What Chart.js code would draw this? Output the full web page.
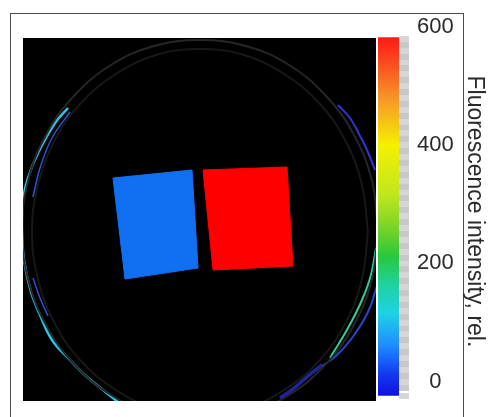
<!DOCTYPE html>
<html>
<head>
<meta charset="utf-8">
<script src="https://cdn.jsdelivr.net/npm/chart.js@4/dist/chart.umd.min.js"></script>
<style>
  body { margin: 0; background: #fff; width: 488px; height: 417px; overflow: hidden; position: relative; }
  #frame { position: absolute; left: 10px; top: 13px; width: 452px; height: 500px; border: 1px solid #4a4a4a; }
  #imgBox { position: absolute; left: 23px; top: 38px; width: 353px; height: 363px; background: #000; }
  #barBox { position: absolute; left: 378px; top: 0; width: 110px; height: 417px; }
</style>
</head>
<body>
<div id="frame"></div>
<div id="imgBox"><canvas id="imgChart"></canvas></div>
<div id="barBox"><canvas id="barChart"></canvas></div>
<script>
// las dos muestras (esquinas, en px)
const muestraAzul = [[113, 178], [192, 170], [198, 268], [125, 279], [113, 178]];
const muestraRoja = [[203, 170], [287, 167], [293, 266], [213, 270], [203, 170]];

// borde de la placa de petri (anillo exterior e interior)
const bordeExterior = [[378, 230], [372, 279], [354, 325], [326, 364], [289, 395], [246, 414], [200, 420],
  [154, 414], [111, 395], [74, 364], [46, 325], [28, 279], [22, 230], [28, 181], [46, 135], [74, 96],
  [111, 65], [154, 46], [200, 40], [246, 46], [289, 65], [326, 96], [354, 135], [372, 181], [378, 230]];
const bordeInterior = [[368, 232], [362, 279], [345, 324], [319, 361], [284, 390], [244, 409], [200, 415],
  [156, 409], [116, 390], [81, 361], [55, 324], [38, 279], [32, 232], [38, 185], [55, 140], [81, 103],
  [116, 74], [156, 55], [200, 49], [244, 55], [284, 74], [319, 103], [345, 140], [362, 185], [368, 232]];

// reflejos de color sobre el borde
const arcoCian = [[68, 108], [55, 123], [38, 153], [28, 178], [23, 200], [22, 230], [24, 260], [31, 292],
  [40, 315], [52, 340], [70, 360], [87, 377], [103, 390], [118, 402]];
const arcoAzulIzq1 = [[70, 112], [52, 138], [40, 168], [33, 197]];
const arcoAzulIzq2 = [[33, 278], [40, 298], [48, 316]];
const arcoAzulDer = [[338, 105], [350, 118], [359, 134], [367, 150], [375, 170]];
const arcoVerde = [[376, 248], [371, 275], [362, 300], [348, 328], [330, 358]];
const arcoAzulBajo = [[377, 286], [368, 312], [352, 338], [336, 356], [322, 366]];
const arcoAzulOscuro = [[322, 365], [308, 376], [293, 389], [280, 398]];

// barra de color
const escalaMin = -24;
const escalaMax = 600;
const barraRango = [-24, 582];
const etiquetas = [0, 200, 400, 600];
const colores = [[0, '#1010e0'], [0.06, '#1438f0'], [0.14, '#1e8cff'], [0.23, '#1ed2e6'], [0.31, '#1ed2a0'],
  [0.39, '#28c83c'], [0.46, '#70d228'], [0.56, '#c0e61e'], [0.7, '#f5f000'], [0.83, '#f79628'],
  [0.93, '#fa4b1e'], [1, '#ff1a14']];

const pts = (arr) => arr.map(p => ({ x: p[0], y: p[1] }));

const linea = (arr, color, ancho) => ({
  data: pts(arr),
  borderColor: color,
  borderWidth: ancho,
  pointRadius: 0,
  tension: 0.4,
  fill: false
});

new Chart(document.getElementById('imgChart'), {
  type: 'line',
  data: {
    datasets: [
      linea(bordeInterior, '#181818', 2),
      linea(bordeExterior, '#262626', 2),
      linea(arcoCian, '#2cc6e4', 2.5),
      linea(arcoAzulIzq1, '#2f55cf', 1.5),
      linea(arcoAzulIzq2, '#3150d2', 1.5),
      linea(arcoAzulDer, '#3434d6', 2),
      linea(arcoVerde, '#34cc94', 2),
      linea(arcoAzulBajo, '#2a44cc', 2),
      linea(arcoAzulOscuro, '#22229a', 3.5),
      {
        data: pts(muestraAzul),
        borderColor: '#1170f2',
        backgroundColor: '#1170f2',
        borderWidth: 1,
        pointRadius: 0,
        tension: 0,
        fill: 'shape'
      },
      {
        data: pts(muestraRoja),
        borderColor: '#fe0000',
        backgroundColor: '#fe0000',
        borderWidth: 1,
        pointRadius: 0,
        tension: 0,
        fill: 'shape'
      }
    ]
  },
  options: {
    responsive: true,
    maintainAspectRatio: false,
    animation: false,
    events: [],
    layout: { padding: 0 },
    plugins: { legend: { display: false }, tooltip: { enabled: false } },
    scales: {
      x: { type: 'linear', min: 23, max: 376, display: false },
      y: { type: 'linear', min: 38, max: 401, reverse: true, display: false }
    }
  }
});

// barra de colores con su eje a la derecha
new Chart(document.getElementById('barChart'), {
  type: 'bar',
  data: {
    labels: [''],
    datasets: [{
      data: [barraRango],
      borderWidth: 0,
      barPercentage: 1,
      categoryPercentage: 1,
      backgroundColor: (c) => {
        const chart = c.chart;
        if (!chart.chartArea) return '#888';
        const y = chart.scales.y;
        const g = chart.ctx.createLinearGradient(0, y.getPixelForValue(barraRango[0]), 0, y.getPixelForValue(barraRango[1]));
        colores.forEach(s => g.addColorStop(s[0], s[1]));
        return g;
      }
    }]
  },
  options: {
    responsive: true,
    maintainAspectRatio: false,
    animation: false,
    events: [],
    layout: { padding: { top: 27, bottom: 16, left: 0, right: 0 } },
    plugins: { legend: { display: false }, tooltip: { enabled: false } },
    scales: {
      x: { display: false },
      y: {
        position: 'right',
        min: escalaMin,
        max: escalaMax,
        afterFit: (scale) => { scale.width = 89; },
        border: { display: false },
        grid: {
          drawOnChartArea: false,
          drawTicks: true,
          tickLength: 10,
          lineWidth: 6,
          color: (c) => c.tick && c.tick.value > barraRango[1] ? 'rgba(0,0,0,0)'
            : (Math.round(c.tick.value / 10) % 2 ? '#c8c8c8' : '#d6d6d6')
        },
        ticks: {
          stepSize: 10,
          autoSkip: false,
          padding: 8,
          crossAlign: 'center',
          color: '#2a2a2a',
          font: { family: 'Liberation Sans', size: 22 },
          callback: (v) => etiquetas.includes(v) ? String(v) : ''
        },
        title: {
          display: true,
          text: 'Fluorescence intensity, rel.',
          color: '#2a2a2a',
          padding: 0,
          font: { family: 'Liberation Sans', size: 23 }
        }
      }
    }
  }
});
</script>
</body>
</html>
